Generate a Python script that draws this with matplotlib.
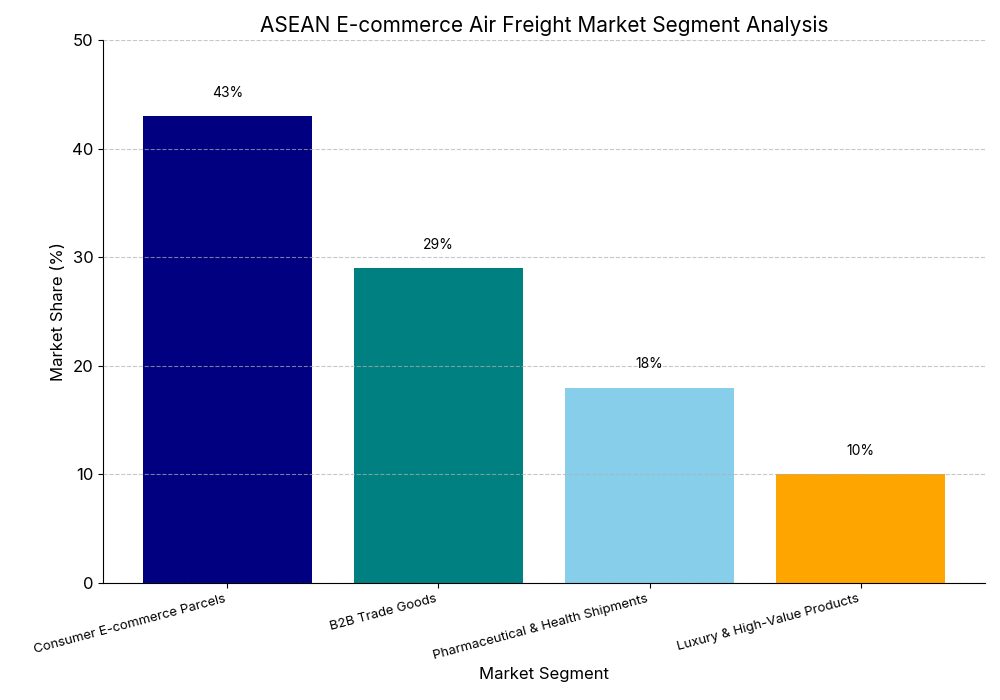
import matplotlib.pyplot as plt
import numpy as np

plt.rcParams['font.family'] = ['Inter', 'DejaVu Sans']

segments = ['Consumer E-commerce Parcels', 'B2B Trade Goods',
            'Pharmaceutical & Health Shipments', 'Luxury & High-Value Products']
shares = [43, 29, 18, 10]
colors = ['navy', 'teal', 'skyblue', 'orange']

fig, ax = plt.subplots(figsize=(10, 7), dpi=100)
x = np.arange(len(segments))
bars = ax.bar(x, shares, color=colors, width=0.8)

for b, v in zip(bars, shares):
    ax.text(b.get_x() + b.get_width() / 2, v + 1.5, f'{v}%',
            ha='center', va='bottom', fontsize=10)

ax.set_ylim(0, 50)
ax.set_xticks(x)
ax.set_xticklabels(segments, rotation=15, ha='right', fontsize=9.5)
ax.tick_params(axis='y', labelsize=12)
ax.set_xlabel('Market Segment', fontsize=12)
ax.set_ylabel('Market Share (%)', fontsize=12)
ax.set_title('ASEAN E-commerce Air Freight Market Segment Analysis', fontsize=15)
ax.yaxis.grid(True, linestyle='--', alpha=0.7, color='#b0b0b0')
ax.set_axisbelow(False)
ax.spines['top'].set_visible(False)
ax.spines['right'].set_visible(False)

plt.subplots_adjust(left=0.103, right=0.985, top=0.943, bottom=0.167)
plt.savefig('out.png')
